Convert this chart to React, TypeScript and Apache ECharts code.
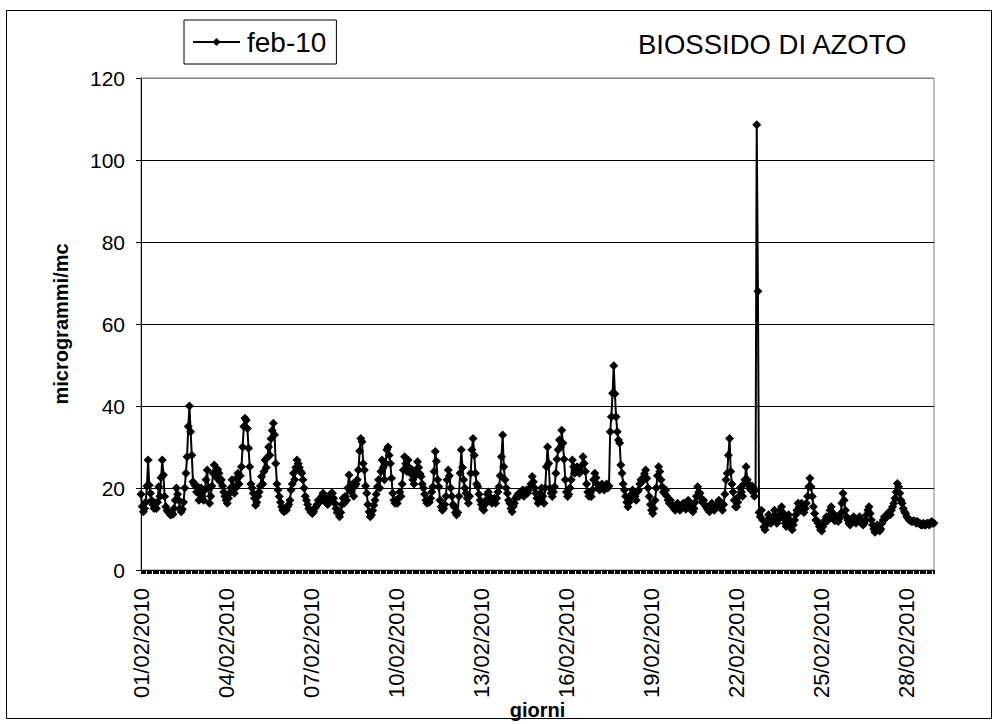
import React, { useEffect, useRef } from "react";
import * as echarts from "echarts";

// Day labels (February 2010)
const days = [
  "01/02/2010", "02/02/2010", "03/02/2010", "04/02/2010", "05/02/2010", "06/02/2010", "07/02/2010",
  "08/02/2010", "09/02/2010", "10/02/2010", "11/02/2010", "12/02/2010", "13/02/2010", "14/02/2010",
  "15/02/2010", "16/02/2010", "17/02/2010", "18/02/2010", "19/02/2010", "20/02/2010", "21/02/2010",
  "22/02/2010", "23/02/2010", "24/02/2010", "25/02/2010", "26/02/2010", "27/02/2010", "28/02/2010",
];
const hours = [
  "00", "01", "02", "03", "04", "05", "06", "07", "08", "09", "10", "11",
  "12", "13", "14", "15", "16", "17", "18", "19", "20", "21", "22", "23",
];

// Hourly NO2 values (microgrammi/mc), one row per day
const no2Hourly = [
  18.5, 15.5, 14.2, 15.0, 16.5, 20.5, 26.8, 20.7, 18.7, 17.0, 16.0, 15.0, 16.3, 15.0, 16.5, 20.3, 18.0, 22.5, 26.8, 23.2, 17.9, 15.4, 14.5, 14.2,
  13.8, 13.4, 14.0, 13.6, 15.0, 17.0, 20.0, 18.5, 17.0, 15.0, 14.2, 14.8, 16.5, 20.0, 23.6, 27.6, 35.0, 40.0, 33.7, 28.0, 21.5, 21.0, 20.5, 19.0,
  20.3, 17.0, 18.5, 20.0, 18.0, 17.0, 19.5, 22.0, 24.4, 20.0, 16.3, 18.0, 20.5, 23.6, 25.6, 24.0, 22.5, 24.5, 23.6, 21.5, 22.0, 20.5, 19.0, 18.0,
  17.0, 16.3, 17.5, 18.7, 20.0, 22.0, 20.5, 18.7, 20.0, 22.5, 23.6, 21.0, 23.0, 25.2, 30.0, 35.0, 37.0, 36.5, 34.5, 29.7, 25.2, 21.0, 20.0, 18.7,
  17.5, 15.8, 16.5, 18.0, 19.0, 20.5, 22.8, 21.0, 24.0, 26.8, 25.0, 27.5, 30.0, 28.0, 32.0, 34.0, 35.8, 33.0, 26.0, 21.0, 19.5, 17.9, 16.5, 15.4,
  14.6, 14.2, 15.0, 14.6, 15.4, 16.0, 17.0, 19.5, 21.0, 23.6, 22.0, 25.0, 26.8, 26.0, 25.0, 24.0, 23.6, 22.0, 20.0, 18.0, 17.0, 16.0, 15.0, 14.6,
  14.0, 13.8, 14.2, 15.0, 15.4, 16.0, 17.0, 16.5, 17.0, 18.0, 18.7, 18.0, 17.0, 16.3, 16.0, 17.0, 18.0, 18.7, 18.7, 17.5, 16.3, 15.0, 14.0, 13.8,
  13.0, 14.0, 16.0, 17.5, 16.3, 18.0, 17.0, 20.0, 23.2, 20.0, 19.0, 21.0, 18.0, 20.5, 21.0, 22.0, 24.4, 29.0, 32.1, 31.3, 26.0, 24.4, 20.5, 18.7,
  16.0, 14.2, 13.0, 13.5, 14.5, 15.8, 17.0, 18.5, 20.3, 22.0, 20.0, 24.0, 26.8, 25.0, 22.0, 26.0, 29.3, 30.0, 28.0, 26.0, 22.4, 18.7, 17.0, 16.3,
  17.0, 16.3, 17.5, 19.0, 18.0, 21.0, 24.4, 27.6, 26.0, 24.0, 26.8, 25.0, 23.6, 24.5, 22.0, 21.0, 23.0, 24.5, 26.4, 25.0, 23.5, 22.8, 21.0, 20.0,
  18.5, 17.0, 16.3, 17.0, 16.5, 17.5, 19.0, 20.3, 24.0, 28.9, 26.5, 22.0, 20.3, 17.0, 15.4, 14.6, 15.0, 16.0, 18.0, 22.0, 24.4, 23.0, 20.0, 18.0,
  16.0, 15.4, 14.0, 13.4, 14.0, 18.0, 23.6, 29.3, 25.0, 22.0, 20.0, 18.7, 17.5, 16.3, 18.0, 23.6, 29.3, 32.1, 28.0, 23.6, 21.0, 20.3, 18.5, 17.0,
  16.0, 15.0, 14.6, 16.0, 17.0, 18.5, 19.0, 17.9, 17.0, 16.3, 17.0, 17.5, 16.3, 17.5, 19.0, 20.3, 23.0, 27.6, 32.9, 25.2, 22.0, 20.0, 18.7, 17.0,
  16.3, 15.0, 14.2, 15.5, 16.3, 17.5, 18.0, 18.5, 18.0, 19.0, 18.5, 19.5, 18.0, 19.0, 19.5, 18.7, 19.5, 20.0, 21.0, 22.8, 21.5, 20.0, 18.7, 17.5,
  16.3, 17.0, 18.7, 20.0, 18.0, 16.3, 20.0, 25.2, 30.0, 26.0, 20.0, 18.7, 17.9, 19.0, 20.3, 23.6, 27.0, 29.3, 31.7, 30.0, 34.1, 31.0, 27.0, 22.0,
  19.0, 17.9, 18.5, 20.0, 22.0, 26.8, 25.2, 23.6, 24.0, 25.2, 24.5, 23.6, 24.0, 25.5, 27.6, 26.0, 24.0, 21.0, 19.0, 18.0, 18.7, 17.9, 19.5, 22.0,
  23.6, 22.5, 21.0, 20.0, 19.5, 20.5, 21.0, 20.0, 19.5, 20.5, 21.0, 20.0, 20.5, 33.7, 37.4, 43.1, 49.8, 43.0, 37.4, 33.7, 31.7, 31.0, 25.6, 23.6,
  21.0, 19.5, 18.0, 16.5, 15.4, 16.5, 17.5, 18.5, 19.5, 18.7, 18.0, 17.0, 19.0, 19.5, 21.0, 22.0, 21.5, 22.5, 23.5, 24.4, 22.4, 20.0, 17.9, 16.0,
  14.6, 13.8, 15.0, 17.0, 20.0, 23.0, 25.2, 24.0, 22.0, 20.3, 19.0, 18.7, 19.5, 18.0, 17.0, 16.3, 17.0, 16.0, 15.4, 15.0, 14.6, 15.5, 16.3, 15.5,
  14.6, 15.0, 16.0, 16.3, 15.4, 14.8, 16.0, 17.0, 16.3, 15.4, 14.6, 14.2, 15.0, 16.5, 18.0, 20.3, 19.0, 18.7, 17.5, 16.5, 17.0, 16.0, 15.5, 15.0,
  14.6, 14.2, 15.0, 16.3, 15.4, 14.6, 15.0, 15.5, 16.3, 17.0, 16.0, 15.4, 14.6, 16.0, 18.5, 22.0, 23.6, 28.0, 32.1, 24.0, 21.0, 19.0, 17.0, 15.4,
  15.4, 16.5, 18.0, 20.0, 19.0, 18.0, 21.0, 22.0, 25.2, 22.0, 21.0, 20.0, 19.5, 20.5, 19.0, 18.0, 19.5, 108.6, 68.0, 14.0, 13.0, 14.6, 12.2, 10.5,
  9.8, 11.0, 12.2, 13.5, 12.5, 11.4, 12.0, 13.0, 14.6, 13.0, 11.4, 12.2, 13.5, 14.6, 15.4, 14.0, 12.6, 11.4, 10.6, 12.0, 13.5, 12.2, 10.6, 9.8,
  11.0, 12.2, 13.5, 14.6, 16.3, 15.4, 14.6, 16.3, 15.0, 14.0, 15.0, 16.3, 18.0, 20.3, 22.4, 20.3, 17.9, 15.4, 13.8, 12.2, 12.0, 11.4, 10.6, 9.8,
  9.5, 10.6, 11.4, 12.2, 13.0, 12.0, 13.0, 14.6, 15.4, 14.0, 12.6, 12.0, 13.0, 12.2, 11.8, 12.6, 13.8, 16.3, 18.7, 17.0, 14.6, 13.0, 12.2, 11.4,
  11.0, 11.8, 12.6, 13.0, 12.2, 11.4, 12.0, 12.6, 13.0, 12.2, 11.4, 11.0, 11.4, 12.2, 13.5, 14.6, 15.4, 13.8, 12.2, 11.0, 10.0, 9.2, 10.2, 11.0,
  10.6, 9.5, 10.0, 11.4, 12.2, 13.0, 12.6, 13.0, 13.8, 14.2, 13.5, 14.6, 15.4, 16.3, 17.5, 19.0, 21.1, 20.3, 18.7, 17.0, 16.3, 15.0, 14.2, 13.8,
  13.0, 12.6, 12.2, 12.0, 11.8, 11.8, 12.0, 11.8, 11.4, 11.8, 11.4, 11.4, 11.0, 11.0, 11.4, 11.0, 11.0, 11.4, 11.4, 11.0, 11.4, 11.8, 11.4, 11.4,
];

const seriesName = "feb-10";
const chartTitle = "BIOSSIDO DI AZOTO";
const yAxisName = "microgrammi/mc";
const xAxisName = "giorni";

const FONT = "'Liberation Sans', Arial, Helvetica, sans-serif";

export default function App() {
  const ref = useRef<HTMLDivElement>(null);

  useEffect(() => {
    if (!ref.current) return;
    const chart = echarts.init(ref.current, null, { renderer: "svg" });
    const categories = days.flatMap((d) => hours.map((h) => `${d} ${h}:00`));

    chart.setOption({
      animation: false,
      backgroundColor: "#ffffff",
      textStyle: { fontFamily: FONT },
      title: {
        text: chartTitle,
        left: 638,
        top: 30,
        padding: 0,
        textStyle: { fontFamily: FONT, fontSize: 27.5, fontWeight: "normal", color: "#000" },
      },
      legend: {
        data: [seriesName],
        left: 184,
        top: 20,
        padding: [8, 10, 8, 8],
        borderColor: "#000",
        borderWidth: 1,
        itemWidth: 47,
        itemHeight: 10,
        itemGap: 0,
        textStyle: { fontFamily: FONT, fontSize: 28, color: "#000", padding: [0, 0, 0, 2] },
      },
      grid: {
        left: 141,
        top: 78,
        right: 61,
        bottom: 154,
        show: true,
        borderColor: "#808080",
        borderWidth: 1,
        containLabel: false,
        outerBoundsMode: "none",
      },
      xAxis: {
        type: "category",
        data: categories,
        boundaryGap: false,
        name: xAxisName,
        nameLocation: "middle",
        nameGap: 130,
        nameMoveOverlap: false,
        nameTextStyle: { fontFamily: FONT, fontSize: 20, fontWeight: "bold", color: "#000" },
        axisLine: { show: true, lineStyle: { color: "#000", width: 1 } },
        axisTick: { show: true, interval: 0, length: 4, lineStyle: { color: "#000", width: 1 } },
        axisLabel: {
          interval: 71,
          rotate: 90,
          margin: 18,
          fontSize: 22,
          color: "#000",
          fontFamily: FONT,
          formatter: (v: string) => v.slice(0, 10),
        },
        splitLine: { show: false },
      },
      yAxis: {
        type: "value",
        min: 0,
        max: 120,
        interval: 20,
        name: yAxisName,
        nameLocation: "middle",
        nameRotate: 90,
        nameGap: 70,
        nameMoveOverlap: false,
        nameTextStyle: { fontFamily: FONT, fontSize: 20, fontWeight: "bold", color: "#000" },
        axisLine: { show: true, lineStyle: { color: "#000", width: 1 } },
        axisTick: { show: true, length: 5, lineStyle: { color: "#000" } },
        axisLabel: { fontSize: 21, color: "#000", margin: 16, fontFamily: FONT },
        splitLine: { show: true, lineStyle: { color: "#000", width: 1 } },
      },
      series: [
        {
          name: seriesName,
          type: "line",
          data: no2Hourly,
          symbol: "diamond",
          symbolSize: 9,
          showSymbol: true,
          showAllSymbol: true,
          itemStyle: { color: "#000" },
          lineStyle: { color: "#000", width: 2 },
        },
      ],
      graphic: [
        {
          type: "rect",
          shape: { x: 6.5, y: 10.5, width: 985, height: 708 },
          style: { fill: "none", stroke: "#000", lineWidth: 1 },
          z: 0,
        },
        {
          type: "line",
          shape: { x1: 141, y1: 78.5, x2: 934, y2: 78.5 },
          style: { stroke: "#808080", lineWidth: 1 },
          z: 100,
        },
      ],
    });

    return () => chart.dispose();
  }, []);

  return (
    <div
      ref={ref}
      style={{ position: "fixed", left: 0, top: 0, width: 995, height: 724, background: "#fff" }}
    />
  );
}
